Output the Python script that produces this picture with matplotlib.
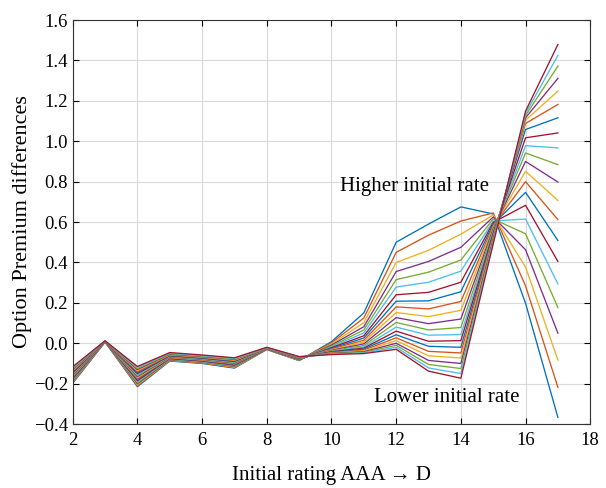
import numpy as np
import matplotlib
matplotlib.use("Agg")
import matplotlib.pyplot as plt

# -------------------------------------------------
# Data (21 curves, one value per curve at each rating)
# curve 1 = highest initial rate ... curve 21 = lowest initial rate
# -------------------------------------------------
ratings = list(range(2, 18))

r2 = [-0.198, -0.194, -0.190, -0.186, -0.182, -0.178, -0.174, -0.170, -0.166, -0.162, -0.158,
      -0.154, -0.150, -0.146, -0.142, -0.138, -0.134, -0.130, -0.126, -0.121, -0.116]
r3 = [0.006, 0.006, 0.007, 0.007, 0.007, 0.008, 0.008, 0.008, 0.009, 0.009, 0.009,
      0.010, 0.010, 0.010, 0.010, 0.011, 0.011, 0.011, 0.012, 0.012, 0.012]
r4 = [-0.215, -0.210, -0.205, -0.200, -0.195, -0.190, -0.185, -0.180, -0.175, -0.170, -0.165,
      -0.160, -0.155, -0.150, -0.145, -0.140, -0.135, -0.130, -0.125, -0.120, -0.115]
r5 = [-0.088, -0.086, -0.084, -0.082, -0.080, -0.078, -0.076, -0.074, -0.072, -0.070, -0.068,
      -0.066, -0.064, -0.062, -0.060, -0.058, -0.056, -0.054, -0.052, -0.049, -0.046]
r6 = [-0.100, -0.098, -0.096, -0.094, -0.092, -0.090, -0.088, -0.086, -0.084, -0.082, -0.080,
      -0.078, -0.076, -0.074, -0.072, -0.070, -0.068, -0.066, -0.064, -0.061, -0.058]
r7 = [-0.123, -0.120, -0.118, -0.115, -0.113, -0.110, -0.108, -0.105, -0.103, -0.100, -0.098,
      -0.095, -0.093, -0.090, -0.088, -0.085, -0.083, -0.080, -0.078, -0.075, -0.072]
r8 = [-0.031, -0.030, -0.030, -0.029, -0.029, -0.028, -0.028, -0.027, -0.027, -0.026, -0.026,
      -0.025, -0.025, -0.024, -0.024, -0.023, -0.023, -0.022, -0.022, -0.021, -0.020]
r9 = [-0.086, -0.085, -0.084, -0.083, -0.082, -0.081, -0.080, -0.079, -0.078, -0.077, -0.076,
      -0.075, -0.074, -0.073, -0.072, -0.071, -0.070, -0.069, -0.068, -0.067, -0.066]
r10 = [0.008, 0.002, -0.004, -0.009, -0.014, -0.018, -0.022, -0.026, -0.029, -0.032, -0.035,
       -0.037, -0.040, -0.042, -0.044, -0.046, -0.048, -0.050, -0.052, -0.054, -0.056]
r11 = [0.150, 0.125, 0.102, 0.082, 0.066, 0.051, 0.037, 0.026, 0.015, 0.006, -0.003,
       -0.011, -0.018, -0.024, -0.029, -0.034, -0.038, -0.042, -0.045, -0.048, -0.051]
r12 = [0.500, 0.450, 0.400, 0.355, 0.315, 0.278, 0.240, 0.208, 0.180, 0.152, 0.127,
       0.103, 0.080, 0.060, 0.042, 0.027, 0.013, 0.000, -0.010, -0.020, -0.030]
r13 = [0.590, 0.535, 0.460, 0.405, 0.352, 0.302, 0.252, 0.210, 0.170, 0.132, 0.097,
       0.066, 0.040, 0.010, -0.015, -0.040, -0.062, -0.085, -0.105, -0.122, -0.138]
r14 = [0.675, 0.605, 0.540, 0.475, 0.412, 0.357, 0.302, 0.255, 0.207, 0.163, 0.120,
       0.078, 0.043, 0.013, -0.020, -0.048, -0.073, -0.100, -0.125, -0.150, -0.173]
r15 = [0.640, 0.645, 0.635, 0.625, 0.615, 0.605, 0.598, 0.590, 0.582, 0.575, 0.567,
       0.560, 0.552, 0.545, 0.537, 0.530, 0.522, 0.515, 0.507, 0.500, 0.492]
r16 = [0.198, 0.284, 0.377, 0.463, 0.542, 0.615, 0.683, 0.747, 0.800, 0.851, 0.900,
       0.942, 0.978, 1.017, 1.058, 1.088, 1.104, 1.116, 1.127, 1.137, 1.149]
r17 = [-0.367, -0.218, -0.083, 0.050, 0.177, 0.294, 0.405, 0.509, 0.612, 0.707, 0.798,
       0.884, 0.967, 1.041, 1.116, 1.182, 1.248, 1.311, 1.372, 1.425, 1.479]

curves = np.array([r2, r3, r4, r5, r6, r7, r8, r9, r10, r11, r12, r13, r14, r15, r16, r17]).T

# MATLAB default colour order
matlab_colors = ["#0072BD", "#D95319", "#EDB120", "#7E2F8E", "#77AC30", "#4DBEEE", "#A2142F"]

# -------------------------------------------------
# Plot
# -------------------------------------------------
plt.rcParams["font.family"] = ["Liberation Serif", "DejaVu Serif"]

fig = plt.figure(figsize=(6.06, 4.88), dpi=100)
ax = fig.add_axes([0.12, 0.131, 0.854, 0.828])

for i, ys in enumerate(curves):
    ax.plot(ratings, ys, color=matlab_colors[i % 7], lw=0.95)

ax.set_xlim(2, 18)
ax.set_ylim(-0.4, 1.6)
ax.set_xticks(range(2, 19, 2))
ax.set_yticks(np.arange(-0.4, 1.61, 0.2))
ax.set_yticklabels([f"{v:.1f}".replace("-", "\u2212") for v in np.arange(-0.4, 1.61, 0.2)])

ax.grid(True, color="#d9d9d9", lw=0.8)
ax.set_axisbelow(True)
ax.tick_params(direction="in", top=True, right=True, labelsize=13.5, length=4, width=0.8)
ax.tick_params(axis="x", pad=6)
for s in ax.spines.values():
    s.set_linewidth(0.8)
    s.set_color("#333333")

ax.set_xlabel("Initial rating AAA \u2192 D", fontsize=15, labelpad=12)
ax.set_ylabel("Option Premium differences", fontsize=16, labelpad=1)

ax.text(10.27, 0.775, "Higher initial rate", fontsize=15, va="center", ha="left")
ax.text(11.3, -0.27, "Lower initial rate", fontsize=15, va="center", ha="left")

fig.savefig("out.png", dpi=100)
plt.close(fig)
